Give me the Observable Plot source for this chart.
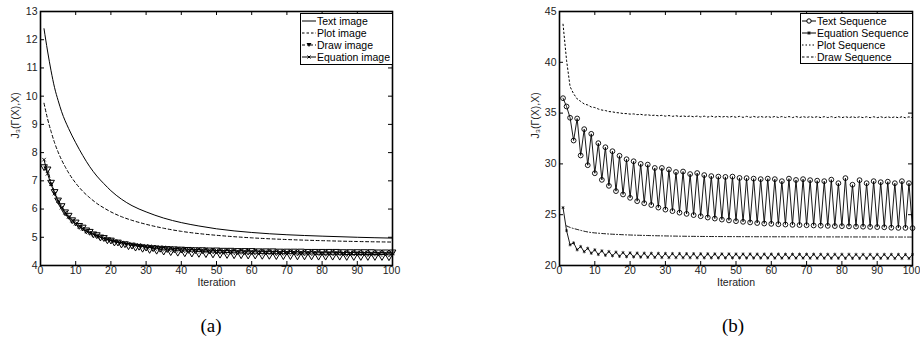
<!DOCTYPE html>
<html><head><meta charset="utf-8">
<script src="https://cdn.jsdelivr.net/npm/d3@7"></script>
<script src="https://cdn.jsdelivr.net/npm/@observablehq/plot@0.6"></script>
<style>
body{margin:0;background:#fff;}
#wrap{position:relative;width:920px;height:340px;font-family:"Liberation Sans",Arial,sans-serif;overflow:hidden;}
.panel{position:absolute;top:0;}
.legend{position:absolute;border:1.6px solid #000;background:#fff;font-size:10.5px;line-height:12px;box-sizing:border-box;padding:1px 2px 0 1px;color:#000;}
.legend .row{display:flex;align-items:center;white-space:nowrap;height:12px;}
.legend svg{margin-right:1px;flex:none;}
.cap{position:absolute;font-family:"Liberation Serif","Times New Roman",serif;font-size:19px;transform:translateX(-50%);line-height:22px;}
</style></head>
<body><div id="wrap"></div>
<script>
// ---------- shared ----------
const iterations = d3.range(1, 101);
const xTicks = [0, 10, 20, 30, 40, 50, 60, 70, 80, 90, 100];

// ---------- panel (a) ----------
const aYTicks = [4, 5, 6, 7, 8, 9, 10, 11, 12, 13];
const aLegend = ["Text image", "Plot image", "Draw image", "Equation image"];
// smooth curves: [iteration, value]
const aTextImage = [[1,12.39],[2,11.6],[3,10.9],[4,10.3],[5,9.85],[6,9.45],[8,8.85],[10,8.35],[12,7.9],[14,7.5],[16,7.17],[18,6.9],[20,6.65],[23,6.35],[26,6.12],[30,5.9],[35,5.68],[40,5.52],[45,5.4],[50,5.3],[60,5.17],[70,5.09],[80,5.04],[90,5.0],[100,4.97]];
const aPlotImage = [[1,9.75],[2,9.2],[3,8.75],[4,8.35],[5,8.02],[6,7.74],[7,7.5],[8,7.28],[10,6.92],[12,6.63],[14,6.4],[16,6.2],[18,6.04],[20,5.9],[23,5.73],[26,5.6],[30,5.46],[35,5.32],[40,5.21],[45,5.13],[50,5.07],[60,4.98],[70,4.92],[80,4.88],[90,4.85],[100,4.83]];
// per-iteration series (1..100)
const aDrawImage = [
7.5,7.42,6.95,6.62,6.32,6.12,5.9,5.78,5.62,5.54,
5.42,5.36,5.26,5.21,5.12,5.09,5.01,4.99,4.91,4.9,
4.83,4.83,4.76,4.77,4.7,4.72,4.65,4.68,4.61,4.65,
4.57,4.63,4.54,4.61,4.51,4.6,4.49,4.59,4.47,4.58,
4.45,4.57,4.44,4.56,4.43,4.56,4.42,4.55,4.41,4.55,
4.4,4.54,4.39,4.54,4.38,4.53,4.38,4.53,4.37,4.53,
4.37,4.52,4.36,4.52,4.36,4.52,4.35,4.51,4.35,4.51,
4.35,4.51,4.34,4.51,4.34,4.5,4.34,4.5,4.33,4.5,
4.33,4.5,4.33,4.5,4.33,4.49,4.32,4.49,4.32,4.49,
4.32,4.49,4.32,4.49,4.32,4.48,4.32,4.48,4.31,4.48];
const aEquationImage = [
7.75,7.25,6.88,6.55,6.28,6.05,5.87,5.72,5.59,5.48,
5.38,5.3,5.22,5.16,5.1,5.05,5.0,4.96,4.92,4.89,
4.86,4.83,4.81,4.79,4.77,4.75,4.73,4.72,4.7,4.69,
4.68,4.66,4.66,4.64,4.64,4.62,4.62,4.6,4.6,4.59,
4.59,4.57,4.58,4.56,4.57,4.55,4.56,4.54,4.55,4.53,
4.54,4.52,4.54,4.52,4.53,4.51,4.53,4.51,4.52,4.5,
4.52,4.5,4.51,4.49,4.51,4.49,4.5,4.48,4.5,4.48,
4.5,4.48,4.49,4.47,4.49,4.47,4.49,4.47,4.48,4.46,
4.48,4.46,4.48,4.46,4.47,4.45,4.47,4.45,4.47,4.45,
4.46,4.45,4.46,4.44,4.46,4.44,4.46,4.44,4.45,4.44];

// ---------- panel (b) ----------
const bYTicks = [20, 25, 30, 35, 40, 45];
const bLegend = ["Text Sequence", "Equation Sequence", "Plot Sequence", "Draw Sequence"];
const bTextSequence = [
36.47,35.65,34.54,32.3,34.47,30.83,33.42,29.87,32.96,29.08,
32.04,28.43,31.64,27.84,31.25,27.32,30.8,26.99,30.46,26.66,
30.26,26.33,30.0,26.13,29.93,25.95,29.6,25.7,29.6,25.5,
29.45,25.35,29.2,25.2,29.25,25.08,29.0,24.96,29.1,24.85,
28.9,24.72,28.8,24.62,28.75,24.52,28.72,24.44,28.75,24.36,
28.62,24.3,28.6,24.24,28.55,24.18,28.5,24.13,28.55,24.1,
28.5,24.06,28.3,24.03,28.55,24.0,28.42,23.98,28.5,23.96,
28.4,23.94,28.35,23.92,28.3,23.9,28.45,23.88,28.1,23.87,
28.6,23.85,27.95,23.83,28.4,23.82,28.1,23.8,28.3,23.78,
28.2,23.76,28.25,23.72,28.1,23.7,28.3,23.7,28.1,23.68];
const bEquationSequence = [
25.7,23.44,22.03,22.23,21.54,21.87,21.35,21.7,21.2,21.55,
21.08,21.45,21.0,21.38,20.95,21.32,20.9,21.28,20.86,21.25,
20.84,21.23,20.82,21.22,20.8,21.21,20.79,21.2,20.78,21.19,
20.77,21.18,20.77,21.18,20.76,21.17,20.76,21.17,20.75,21.16,
20.75,21.16,20.75,21.15,20.74,21.15,20.74,21.15,20.74,21.14,
20.74,21.14,20.73,21.14,20.73,21.13,20.73,21.13,20.73,21.13,
20.72,21.13,20.72,21.12,20.72,21.12,20.72,21.12,20.72,21.12,
20.71,21.12,20.71,21.11,20.71,21.11,20.71,21.11,20.71,21.11,
20.7,21.11,20.7,21.1,20.7,21.1,20.7,21.1,20.7,21.1,
20.7,21.1,20.7,21.1,20.69,21.1,20.69,21.09,20.69,21.09];
const bPlotSequence = [
43.75,40.2,37.6,36.9,36.4,36.15,35.9,35.8,35.6,35.55,
35.4,35.3,35.25,35.15,35.12,35.05,35.02,34.96,34.95,34.9,
34.92,34.85,34.88,34.8,34.84,34.76,34.8,34.73,34.78,34.7,
34.76,34.68,34.74,34.66,34.73,34.65,34.72,34.63,34.71,34.62,
34.7,34.61,34.7,34.6,34.69,34.6,34.69,34.59,34.68,34.59,
34.68,34.58,34.68,34.58,34.67,34.58,34.67,34.57,34.67,34.57,
34.67,34.57,34.66,34.57,34.66,34.56,34.66,34.56,34.66,34.56,
34.66,34.56,34.65,34.56,34.65,34.56,34.65,34.55,34.65,34.55,
34.65,34.55,34.65,34.55,34.64,34.55,34.64,34.55,34.64,34.55,
34.64,34.54,34.64,34.54,34.64,34.54,34.64,34.54,34.63,34.54];
const bDrawSequence = [[2,23.9],[3,23.75],[5,23.55],[8,23.3],[12,23.15],[18,23.03],[25,22.95],[35,22.88],[50,22.84],[70,22.82],[100,22.8]];

// ---------- builders ----------
const perIter = vals => iterations.map((it, i) => ({x: it, y: vals[i]}));
const pairs = arr => arr.map(([x, y]) => ({x, y}));

function panel({yDomain, yTicks, ml, mr, ylabelDx, marks}) {
  const width = 460, height = 290, mt = 11, mb = 25;
  const fh = height - mt - mb, fw = width - ml - mr;
  const lastX = xTicks[xTicks.length - 1];
  return Plot.plot({
    width, height, marginLeft: ml, marginRight: mr, marginTop: mt, marginBottom: mb,
    style: {fontFamily: "'Liberation Sans', Arial, sans-serif", fontSize: "10.5px", color: "#222", background: "transparent", overflow: "visible"},
    x: {domain: [0, 100]},
    y: {domain: yDomain},
    marks: [
      ...marks,
      Plot.tickX(xTicks, {x: d => d, insetTop: fh - 4, stroke: "#000"}),
      Plot.tickX(xTicks, {x: d => d, insetBottom: fh - 4, stroke: "#000"}),
      Plot.tickY(yTicks, {y: d => d, insetRight: fw - 4, stroke: "#000"}),
      Plot.tickY(yTicks, {y: d => d, insetLeft: fw - 4, stroke: "#000"}),
      Plot.axisX(xTicks.slice(0, -1), {tickSize: 0, tickPadding: 1, label: null, fill: "#222"}),
      Plot.axisX([lastX], {tickSize: 0, tickPadding: 1, label: null, fill: "#222", dx: -1}),
      Plot.axisY(yTicks, {tickSize: 0, tickPadding: 3, label: null, fill: "#222"}),
      Plot.text(["Iteration"], {frameAnchor: "bottom", dy: 20, fill: "#222"}),
      Plot.text(["J\u2083(\u0393(X),X)"], {frameAnchor: "left", rotate: -90, dx: ylabelDx, fill: "#222"}),
      Plot.frame({stroke: "#000", strokeWidth: 1.6})
    ]
  });
}

const chartA = panel({
  yDomain: [4, 13], yTicks: aYTicks, ml: 40, mr: 68, ylabelDx: -25,
  marks: [
    Plot.line(pairs(aTextImage), {x: "x", y: "y", curve: "monotone-x", stroke: "#000", strokeWidth: 1}),
    Plot.line(pairs(aPlotImage), {x: "x", y: "y", curve: "monotone-x", stroke: "#000", strokeWidth: 1, strokeDasharray: "3,2.5"}),
    Plot.line(perIter(aDrawImage), {x: "x", y: "y", stroke: "#000", strokeWidth: 0.9, strokeDasharray: "4,2,1,2"}),
    Plot.dot(perIter(aDrawImage), {x: "x", y: "y", symbol: "triangle", rotate: 180, r: 2.5, stroke: "#000", fill: "none", strokeWidth: 1}),
    Plot.line(perIter(aEquationImage), {x: "x", y: "y", stroke: "#000", strokeWidth: 1}),
    Plot.dot(perIter(aEquationImage), {x: "x", y: "y", symbol: "times", r: 1.8, stroke: "#000", strokeWidth: 0.9})
  ]
});

const chartB = panel({
  yDomain: [20, 45], yTicks: bYTicks, ml: 99, mr: 8, ylabelDx: -24,
  marks: [
    Plot.line(perIter(bPlotSequence), {x: "x", y: "y", stroke: "#000", strokeWidth: 1, strokeDasharray: "1.5,2.5"}),
    Plot.line(pairs(bDrawSequence), {x: "x", y: "y", curve: "monotone-x", stroke: "#000", strokeWidth: 0.9, strokeDasharray: "4,2,1,2"}),
    Plot.line(perIter(bTextSequence), {x: "x", y: "y", stroke: "#000", strokeWidth: 0.9}),
    Plot.dot(perIter(bTextSequence), {x: "x", y: "y", symbol: "circle", r: 2.4, stroke: "#000", fill: "none", strokeWidth: 0.9}),
    Plot.line(perIter(bEquationSequence), {x: "x", y: "y", stroke: "#000", strokeWidth: 0.9}),
    Plot.dot(perIter(bEquationSequence), {x: "x", y: "y", symbol: "asterisk", r: 1.5, stroke: "#000", strokeWidth: 0.7})
  ]
});

const wrap = document.getElementById("wrap");
function place(el, left) { el.classList.add("panel"); el.style.left = left + "px"; wrap.appendChild(el); }
place(chartA, 0);
place(chartB, 460);

// ---------- legends ----------
const ns = "http://www.w3.org/2000/svg";
function sample(kind) {
  const s = document.createElementNS(ns, "svg");
  s.setAttribute("width", 14); s.setAttribute("height", 10);
  let inner = "";
  const line = dash => `<line x1="0" y1="5" x2="14" y2="5" stroke="#000" stroke-width="1"${dash ? ` stroke-dasharray="${dash}"` : ""}/>`;
  if (kind === "solid") inner = line();
  if (kind === "dashed") inner = line("2.5,2");
  if (kind === "dotted") inner = line("1.5,2");
  if (kind === "dashdot") inner = line("3,2,1,2");
  if (kind === "tri") inner = line("3,2,1,2") + `<path d="M4.5,3 L9.5,3 L7,7 Z" fill="#000"/>`;
  if (kind === "times") inner = line() + `<path d="M5.5,3.5 L8.5,6.5 M8.5,3.5 L5.5,6.5" stroke="#000" stroke-width="1"/>`;
  if (kind === "circle") inner = line() + `<circle cx="7" cy="5" r="2.2" fill="#fff" stroke="#000" stroke-width="1"/>`;
  if (kind === "ast") inner = line() + `<path d="M7,3 L7,7 M5.3,4 L8.7,6 M8.7,4 L5.3,6" stroke="#000" stroke-width="0.8"/>`;
  s.innerHTML = inner;
  return s;
}
function legend(labels, kinds, left, top, w, h) {
  const d = document.createElement("div");
  d.className = "legend";
  Object.assign(d.style, {left: left + "px", top: top + "px", width: w + "px", height: h + "px"});
  labels.forEach((lab, i) => {
    const r = document.createElement("div"); r.className = "row";
    r.appendChild(sample(kinds[i]));
    const t = document.createElement("span"); t.textContent = lab; r.appendChild(t);
    d.appendChild(r);
  });
  wrap.appendChild(d);
}
legend(aLegend, ["solid", "dashed", "tri", "times"], 300, 13, 93, 52);
legend(bLegend, ["circle", "ast", "dotted", "dashed"], 800, 13, 113, 51);

// ---------- captions ----------
function caption(txt, cx, top) {
  const c = document.createElement("div"); c.className = "cap"; c.textContent = txt;
  c.style.left = cx + "px"; c.style.top = top + "px"; wrap.appendChild(c);
}
caption("(a)", 211, 315);
caption("(b)", 733, 315);
</script>
</body></html>
